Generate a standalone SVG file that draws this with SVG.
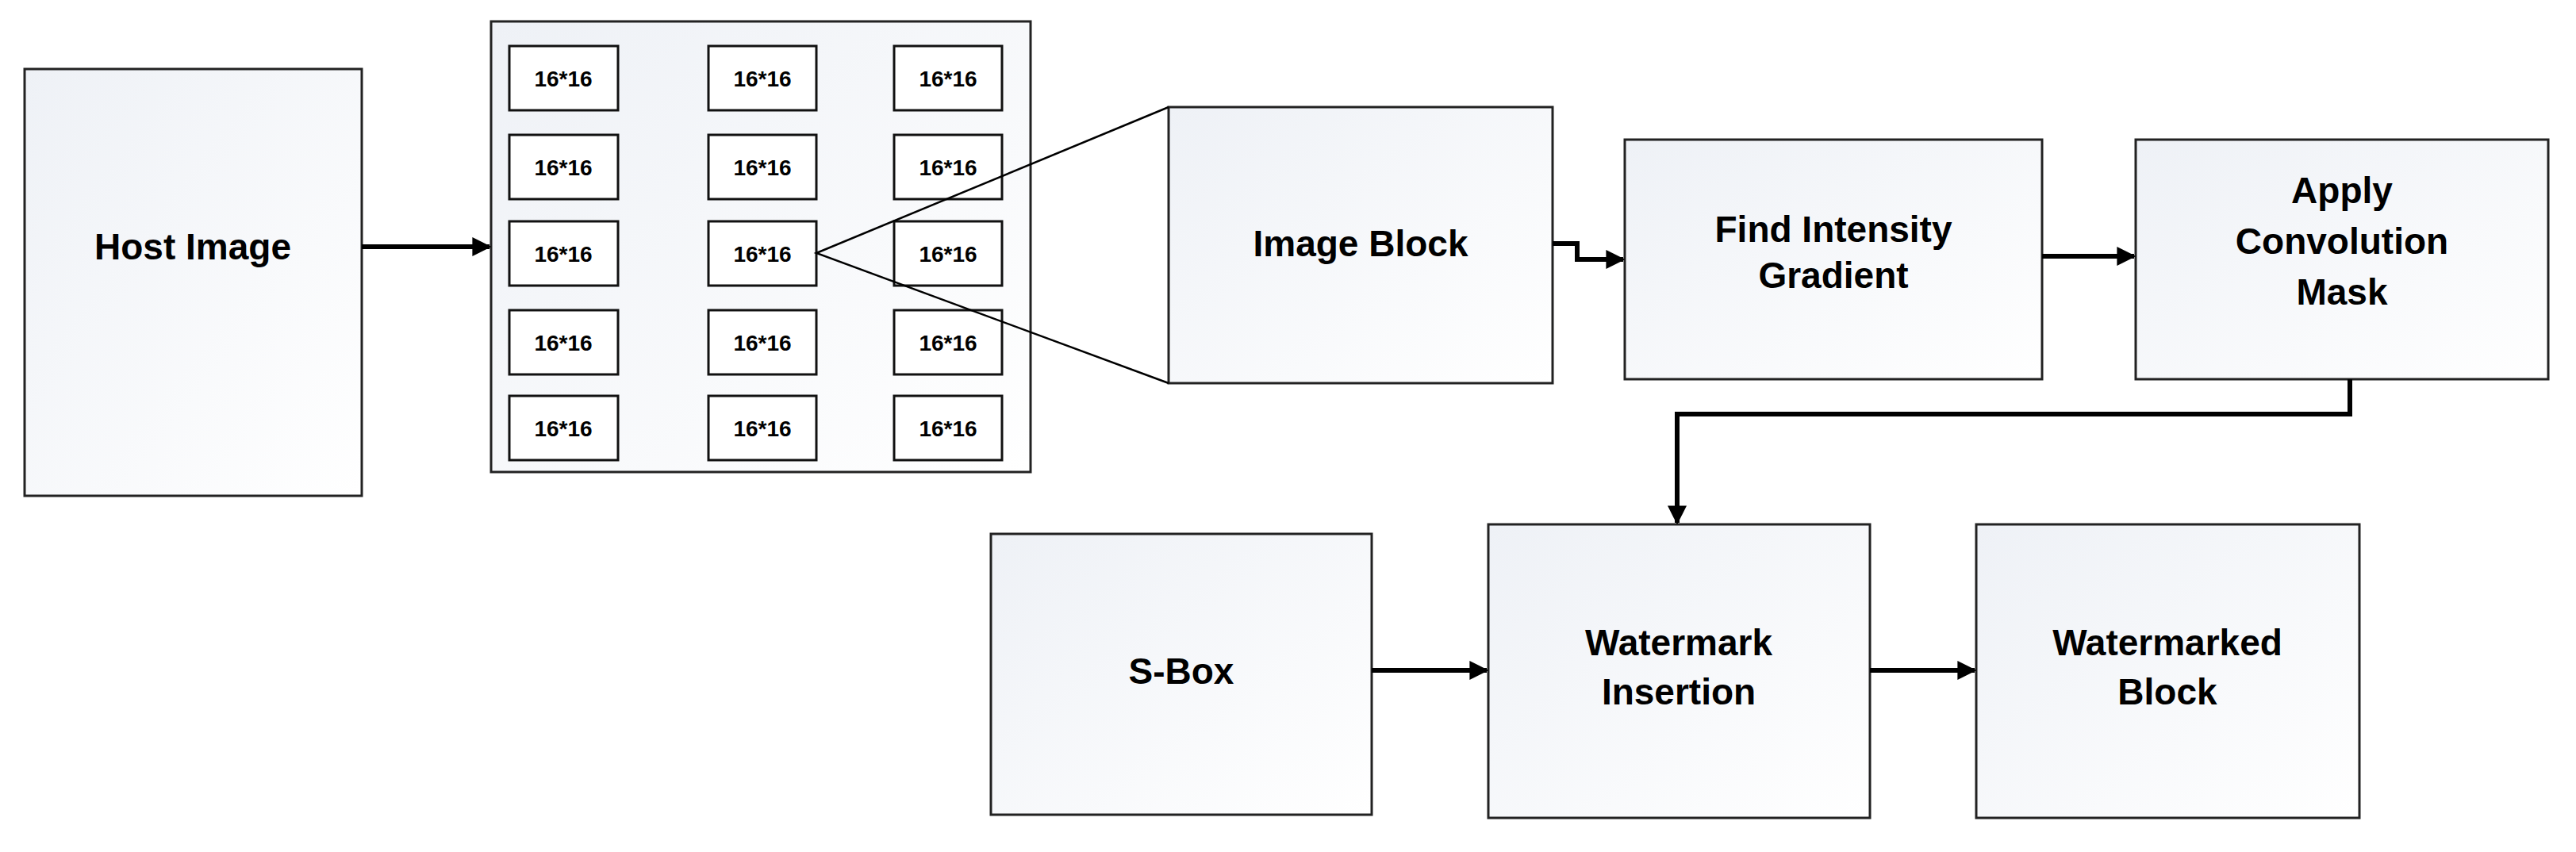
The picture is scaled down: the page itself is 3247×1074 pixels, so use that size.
<svg xmlns="http://www.w3.org/2000/svg" width="3247" height="1074" viewBox="0 0 3247 1074">
<defs>
<linearGradient id="g" x1="0" y1="0" x2="1" y2="1"><stop offset="0" stop-color="#eef1f6"/><stop offset="1" stop-color="#ffffff"/></linearGradient>
<marker id="ah" viewBox="0 0 10 10" refX="9" refY="5" markerWidth="4" markerHeight="4" orient="auto"><path d="M0,0 L10,5 L0,10 z" fill="#000"/></marker>
<style>
.b{fill:url(#g);stroke:#222;stroke-width:3}
.s{fill:#fff;stroke:#111;stroke-width:3}
.t{font-family:"Liberation Sans",Arial,sans-serif;font-weight:bold;font-size:46px;text-anchor:middle;fill:#000}
.st{font-family:"Liberation Sans",Arial,sans-serif;font-weight:bold;font-size:28px;text-anchor:middle;fill:#000}
.c{fill:none;stroke:#000;stroke-width:6}
.l{fill:none;stroke:#000;stroke-width:2.5}
</style>
</defs>
<rect width="3247" height="1074" fill="#fff"/>
<g id="host"><rect class="b" x="31" y="87" width="425" height="538"/><text class="t" x="243" y="327">Host Image</text></g>
<g id="grid"><rect class="b" x="619" y="27" width="680" height="568"/>
<g id="cells">
<rect class="s" x="642" y="58" width="137" height="81"/><rect class="s" x="893" y="58" width="136" height="81"/><rect class="s" x="1127" y="58" width="136" height="81"/>
<rect class="s" x="642" y="170" width="137" height="81"/><rect class="s" x="893" y="170" width="136" height="81"/><rect class="s" x="1127" y="170" width="136" height="81"/>
<rect class="s" x="642" y="279" width="137" height="81"/><rect class="s" x="893" y="279" width="136" height="81"/><rect class="s" x="1127" y="279" width="136" height="81"/>
<rect class="s" x="642" y="391" width="137" height="81"/><rect class="s" x="893" y="391" width="136" height="81"/><rect class="s" x="1127" y="391" width="136" height="81"/>
<rect class="s" x="642" y="499" width="137" height="81"/><rect class="s" x="893" y="499" width="136" height="81"/><rect class="s" x="1127" y="499" width="136" height="81"/>
<text class="st" x="710" y="109">16*16</text><text class="st" x="961" y="109">16*16</text><text class="st" x="1195" y="109">16*16</text>
<text class="st" x="710" y="221">16*16</text><text class="st" x="961" y="221">16*16</text><text class="st" x="1195" y="221">16*16</text>
<text class="st" x="710" y="330">16*16</text><text class="st" x="961" y="330">16*16</text><text class="st" x="1195" y="330">16*16</text>
<text class="st" x="710" y="442">16*16</text><text class="st" x="961" y="442">16*16</text><text class="st" x="1195" y="442">16*16</text>
<text class="st" x="710" y="550">16*16</text><text class="st" x="961" y="550">16*16</text><text class="st" x="1195" y="550">16*16</text>
</g></g>
<g id="imageblock"><rect class="b" x="1473" y="135" width="484" height="348"/><text class="t" x="1715" y="323">Image Block</text></g>
<g id="find"><rect class="b" x="2048" y="176" width="526" height="302"/><text class="t" x="2311" y="305">Find Intensity</text><text class="t" x="2311" y="363">Gradient</text></g>
<g id="apply"><rect class="b" x="2692" y="176" width="520" height="302"/><text class="t" x="2952" y="256">Apply</text><text class="t" x="2952" y="320">Convolution</text><text class="t" x="2952" y="384">Mask</text></g>
<g id="sbox"><rect class="b" x="1249" y="673" width="480" height="354"/><text class="t" x="1489" y="862">S-Box</text></g>
<g id="insert"><rect class="b" x="1876" y="661" width="481" height="370"/><text class="t" x="2116" y="826">Watermark</text><text class="t" x="2116" y="888">Insertion</text></g>
<g id="out"><rect class="b" x="2491" y="661" width="483" height="370"/><text class="t" x="2732" y="826">Watermarked</text><text class="t" x="2732" y="888">Block</text></g>
<g id="connectors">
<path class="l" d="M1473,135 L1029,319 L1473,483"/>
<path class="c" marker-end="url(#ah)" d="M456,311 H617"/>
<path class="c" marker-end="url(#ah)" d="M1957,307 H1988 V327 H2046"/>
<path class="c" marker-end="url(#ah)" d="M2574,323 H2690"/>
<path class="c" marker-end="url(#ah)" d="M2962,478 V522 H2114 V659"/>
<path class="c" marker-end="url(#ah)" d="M1729,845 H1874"/>
<path class="c" marker-end="url(#ah)" d="M2357,845 H2489"/>
</g>
</svg>
